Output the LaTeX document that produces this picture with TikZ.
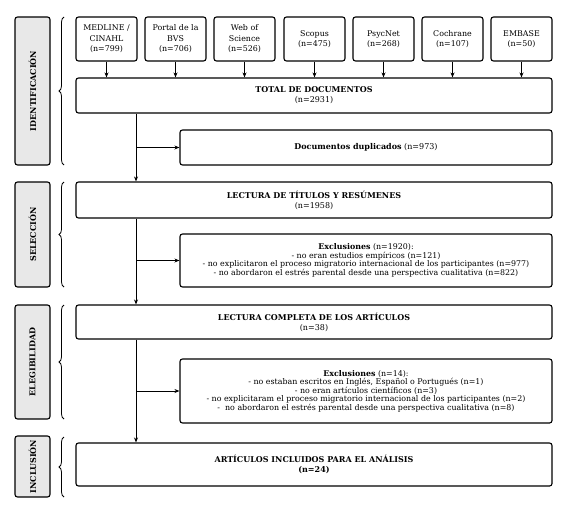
\documentclass[tikz,border=0pt]{standalone}
\usepackage{fontspec}
\setmainfont{DejaVu Serif}
\usetikzlibrary{decorations.pathreplacing,arrows.meta}
\begin{document}
\begin{tikzpicture}[x=1pt,y=-1pt,
 box/.style={draw, rounded corners=2.5pt, line width=1.1pt, align=center, inner sep=1pt, font=\fontsize{8}{10}\selectfont},
 exbox/.style={box, font=\fontsize{7.9}{7.4}\selectfont},
 phase/.style={draw, rounded corners=2.5pt, line width=1.1pt, fill=gray!18, inner sep=0pt, rotate=90, minimum height=35pt, font=\fontsize{8}{9}\selectfont\bfseries},
 arr/.style={-{Stealth[length=5pt,width=4pt]}, line width=0.8pt},
 brc/.style={decorate, decoration={brace, amplitude=5pt}, line width=0.8pt}]
\useasboundingbox (0,0) rectangle (570,514);
% phase labels
\node[phase, minimum width=148pt] (pid) at (32.5,91) {IDENTIFICACIÓN};
\node[phase, minimum width=105pt] (psel) at (32.5,234.5) {SELECCIÓN};
\node[phase, minimum width=114pt] (peleg) at (32.5,362) {ELEGIBILIDAD};
\node[phase, minimum width=61pt] (pinc) at (32.5,466.5) {INCLUSIÓN};
% braces
\draw[brc] (64,165) -- (64,17);
\draw[brc] (64,287) -- (64,182);
\draw[brc] (64,419) -- (64,305);
\draw[brc] (64,497) -- (64,437);
% sources
\tikzset{src/.style={box, minimum width=61pt, minimum height=44pt, font=\fontsize{7.9}{10.4}\selectfont}}
\node[src] (s1) at (106.5,39) {MEDLINE /\\CINAHL\\(n=799)};
\node[src] (s2) at (175.5,39) {Portal de la\\BVS\\(n=706)};
\node[src] (s3) at (244.5,39) {Web of\\Science\\(n=526)};
\node[src] (s4) at (314.5,39) {Scopus\\(n=475)};
\node[src] (s5) at (383.5,39) {PsycNet\\(n=268)};
\node[src] (s6) at (452.5,39) {Cochrane\\(n=107)};
\node[src] (s7) at (521.5,39) {EMBASE\\(n=50)};
% main boxes
\node[box, minimum width=476pt, minimum height=35pt] (total) at (314,95.5) {\textbf{TOTAL DE DOCUMENTOS}\\(n=2931)};
\node[box, minimum width=372pt, minimum height=35pt] (dup) at (366,147.5) {\textbf{Documentos duplicados} (n=973)};
\node[box, minimum width=476pt, minimum height=36pt] (lect1) at (314,200) {\textbf{LECTURA DE TÍTULOS Y RESÚMENES}\\(n=1958)};
\node[exbox, minimum width=372pt, minimum height=53pt] (exc1) at (366,260.5) {\textbf{Exclusiones} (n=1920):\\- no eran estudios empíricos (n=121)\\- no explicitaron el proceso migratorio internacional de los participantes (n=977)\\- no abordaron el estrés parental desde una perspectiva cualitativa (n=822)};
\node[box, minimum width=476pt, minimum height=34pt] (lect2) at (314,322) {\textbf{LECTURA COMPLETA DE LOS ARTÍCULOS}\\(n=38)};
\node[exbox, minimum width=372pt, minimum height=64pt] (exc2) at (366,391) {\textbf{Exclusiones} (n=14):\\- no estaban escritos en Inglés, Español o Portugués (n=1)\\- no eran artículos científicos (n=3)\\- no explicitaram el proceso migratorio internacional de los participantes (n=2)\\-\ \ no abordaron el estrés parental desde una perspectiva cualitativa (n=8)};
\node[box, minimum width=476pt, minimum height=43pt] (incl) at (314,464.5) {\textbf{ARTÍCULOS INCLUIDOS PARA EL ANÁLISIS}\\\textbf{(n=24)}};
% connectors
\foreach \s in {s1,s2,s3,s4,s5,s6,s7}
  \draw[arr] (\s.south) -- (\s.south |- total.north);
\coordinate (spine) at (136,0);
\draw[arr] (total.south -| spine) -- (lect1.north -| spine);
\draw[arr] (spine |- dup.west) -- (dup.west);
\draw[arr] (lect1.south -| spine) -- (lect2.north -| spine);
\draw[arr] (spine |- exc1.west) -- (exc1.west);
\draw[arr] (lect2.south -| spine) -- (incl.north -| spine);
\draw[arr] (spine |- exc2.west) -- (exc2.west);
\end{tikzpicture}
\end{document}
